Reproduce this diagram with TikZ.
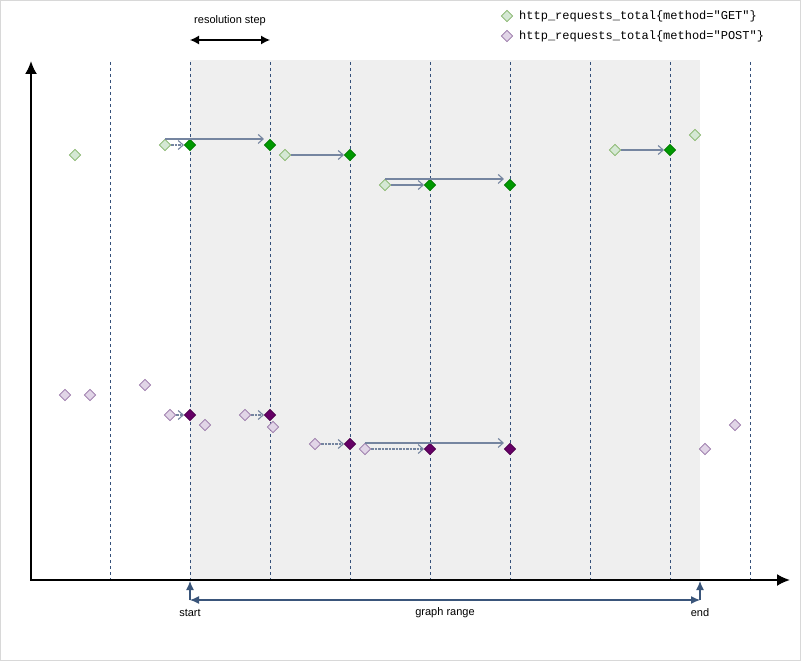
\documentclass[tikz,border=0pt]{standalone}
\usepackage{fontspec}
\setmainfont{Liberation Sans}
\setmonofont{Liberation Mono}
\usetikzlibrary{shapes.geometric,arrows.meta}
\definecolor{gridc}{HTML}{34507A}
\definecolor{linkc}{HTML}{7585A0}
\definecolor{rangec}{HTML}{3A557A}
\definecolor{areac}{HTML}{EFEFEF}
\definecolor{framec}{HTML}{D8D8D8}
\definecolor{glf}{HTML}{D5E8D4}
\definecolor{gld}{HTML}{82B366}
\definecolor{gdf}{HTML}{009900}
\definecolor{gdd}{HTML}{007A00}
\definecolor{plf}{HTML}{E1D5E7}
\definecolor{pld}{HTML}{9673A6}
\definecolor{pdf}{HTML}{660066}
\definecolor{pdd}{HTML}{4D004D}
\begin{document}
\begin{tikzpicture}[x=1pt,y=-1pt,
  dia/.style={diamond,aspect=1,inner sep=0pt,minimum width=11.5pt,minimum height=11.5pt,line width=0.6pt},
  gl/.style={dia,fill=glf,draw=gld},
  gd/.style={dia,fill=gdf,draw=gdd},
  pl/.style={dia,fill=plf,draw=pld},
  pd/.style={dia,fill=pdf,draw=pdd},
  gridline/.style={draw=gridc,dash pattern=on 3pt off 3pt,line width=0.9pt},
  link/.style={draw=linkc,line width=1.3pt,-{Straight Barb[length=5pt,width=9pt,line width=1.1pt]}},
  dlink/.style={link,dash pattern=on 2.5pt off 1pt},
  axisline/.style={draw=black,line width=2pt},
  rangeline/.style={draw=rangec,line width=1.2pt,>={Latex[length=9pt,width=8pt]}},
  lbl/.style={font=\fontsize{11}{13}\selectfont,inner sep=0pt},
  leg/.style={font=\ttfamily\fontsize{12}{13}\selectfont,anchor=west,inner sep=0pt}
]
\useasboundingbox (0,0) rectangle (801,661);
\fill[white] (0,0) rectangle (801,661);
\draw[framec,line width=1pt] (0.5,0.5) rectangle (800.5,660.5);
\fill[areac] (190,60) rectangle (700,580);
\foreach \x in {110,190,270,350,430,510,590,670,750}
  \draw[gridline] (\x,62) -- (\x,580);
% axes
\coordinate (ytop) at (31,61);
\coordinate (orig) at (31,580);
\coordinate (xend) at (790,580);
\draw[axisline,{Latex[length=13pt,width=12pt]}-{Latex[length=13pt,width=12pt]}] (ytop) -- (orig) -- (xend);
% resolution step
\node[lbl] (rstext) at (230,21) {resolution step};
\coordinate (rsa) at (190,40);
\coordinate (rsb) at (270,40);
\draw[line width=1.3pt,{Latex[length=9pt,width=9pt]}-{Latex[length=9pt,width=9pt]}] (rsa) -- (rsb);
% legend
\node[gl] (lg) at (507,16) {};
\node[leg] (lgt) at (519,16) {http\_requests\_total\{method="GET"\}};
\node[pl] (lp) at (507,36) {};
\node[leg] (lpt) at (519,36) {http\_requests\_total\{method="POST"\}};
% GET series
\node[gl] (g1) at (75,155) {};
\node[gl] (g2) at (165,145) {};
\node[gd] (g3) at (190,145) {};
\node[gd] (g4) at (270,145) {};
\node[gl] (g5) at (285,155) {};
\node[gd] (g6) at (350,155) {};
\node[gl] (g7) at (385,185) {};
\node[gd] (g8) at (430,185) {};
\node[gd] (g9) at (510,185) {};
\node[gl] (g10) at (615,150) {};
\node[gd] (g11) at (670,150) {};
\node[gl] (g12) at (695,135) {};
\draw[dlink] (g2.east) -- (g3.west);
\draw[link] (g2.north) -- (g2.north -| g4.west);
\draw[link] (g5.east) -- (g6.west);
\draw[link] (g7.east) -- (g8.west);
\draw[link] (g7.north) -- (g7.north -| g9.west);
\draw[link] (g10.east) -- (g11.west);
% POST series
\node[pl] (p1) at (65,395) {};
\node[pl] (p2) at (90,395) {};
\node[pl] (p3) at (145,385) {};
\node[pl] (p4) at (170,415) {};
\node[pd] (p5) at (190,415) {};
\node[pl] (p6) at (205,425) {};
\node[pl] (p7) at (245,415) {};
\node[pd] (p8) at (270,415) {};
\node[pl] (p9) at (273,427) {};
\node[pl] (p10) at (315,444) {};
\node[pd] (p11) at (350,444) {};
\node[pl] (p12) at (365,449) {};
\node[pd] (p13) at (430,449) {};
\node[pd] (p14) at (510,449) {};
\node[pl] (p15) at (705,449) {};
\node[pl] (p16) at (735,425) {};
\draw[dlink] (p4.east) -- (p5.west);
\draw[dlink] (p7.east) -- (p8.west);
\draw[dlink] (p10.east) -- (p11.west);
\draw[dlink] (p12.east) -- (p13.west);
\draw[link] (p12.north) -- (p12.north -| p14.west);
% graph range
\coordinate (rs) at (190,600);
\coordinate (re) at (700,600);
\coordinate (sa) at (190,581);
\coordinate (ea) at (700,581);
\draw[rangeline,<->] (rs) -- (re);
\draw[rangeline,->] (rs) -- (sa);
\draw[rangeline,->] (re) -- (ea);
\node[lbl] (st) at (190,613) {start};
\node[lbl] (gr) at (445,613) {graph range};
\node[lbl] (en) at (700,613) {end};
\end{tikzpicture}
\end{document}
